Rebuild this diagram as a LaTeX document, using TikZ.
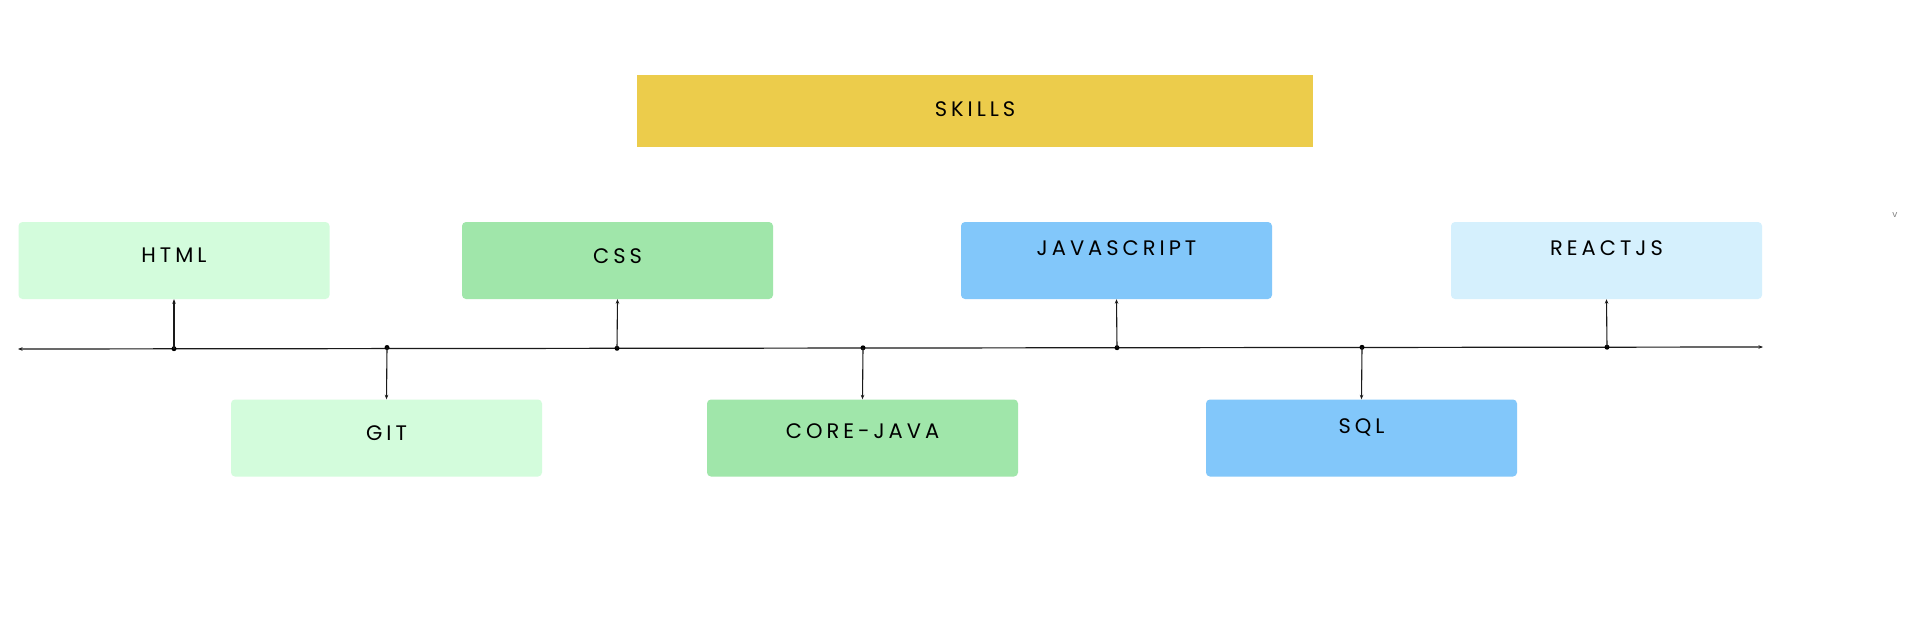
\documentclass[tikz,border=0pt]{standalone}
\usepackage{fontspec}
\setmainfont[LetterSpace=19]{Poppins}
\usetikzlibrary{arrows.meta}
\definecolor{skillc}{HTML}{ECCC4B}
\definecolor{lgreen}{HTML}{D3FCDC}
\definecolor{mgreen}{HTML}{A0E6AA}
\definecolor{mblue}{HTML}{82C7FA}
\definecolor{lblue}{HTML}{D5F0FD}
\definecolor{linec}{HTML}{1A1A1A}
\tikzset{
  box/.style={draw=none, rounded corners=4pt, minimum width=311pt, minimum height=77pt, inner sep=0pt},
  lbl/.style={inner sep=0pt, font=\fontsize{21}{21}\selectfont, text=black},
  conn/.style={draw=linec, line width=1.1pt, -{Stealth[length=4.5pt,width=3.5pt]}},
  tl/.style={draw=linec, line width=1.2pt, {Stealth[length=4.5pt,width=3.5pt]}-{Stealth[length=4.5pt,width=3.5pt]}},
  dotc/.style={circle, fill=black, inner sep=0pt, minimum size=5pt},
}
\begin{document}
\begin{tikzpicture}[x=1pt,y=-1pt]
\useasboundingbox (0,0) rectangle (1920,640);
\fill[white] (0,0) rectangle (1920,640);
% title
\node[draw=none, fill=skillc, minimum width=676pt, minimum height=72pt, inner sep=0pt] (skills) at (975,111) {};
\node[lbl] (skillst) at (975,109) {SKILLS};
% top boxes
\node[box, fill=lgreen] (html) at (174,260.5) {};
\node[lbl] (htmlt) at (174,255.5) {HTML};
\node[box, fill=mgreen] (css) at (617.5,260.5) {};
\node[lbl] (csst) at (617.5,256) {CSS};
\node[box, fill=mblue] (js) at (1116.5,260.5) {};
\node[lbl] (jst) at (1116.5,248) {JAVASCRIPT};
\node[box, fill=lblue] (react) at (1606.5,260.5) {};
\node[lbl] (reactt) at (1606.5,248) {REACTJS};
% bottom boxes
\node[box, fill=lgreen] (git) at (386.5,438) {};
\node[lbl] (gitt) at (386.5,433) {GIT};
\node[box, fill=mgreen] (cj) at (862.5,438) {};
\node[lbl] (cjt) at (862.5,431) {CORE-JAVA};
\node[box, fill=mblue] (sql) at (1361.5,438) {};
\node[lbl] (sqlt) at (1361.5,427) {SQL};
% stray mark
\node[inner sep=0pt, font=\fontsize{9}{9}\selectfont, text=gray] (vmark) at (1895,215) {v};
% timeline
\coordinate (tlL) at (18,349);
\coordinate (tlR) at (1763,347);
\draw[tl] (tlL) -- (tlR);
% junctions
\node[dotc] (dhtml) at (174,348.7) {};
\node[dotc] (dgit) at (387,347.5) {};
\node[dotc] (dcss) at (617,348.3) {};
\node[dotc] (dcj) at (863,347.8) {};
\node[dotc] (djs) at (1117,347.7) {};
\node[dotc] (dsql) at (1362,347.3) {};
\node[dotc] (dreact) at (1607,347.2) {};
% connectors
\draw[conn] (dhtml.center) -- (html.south);
\draw[conn] (dcss.center) -- (css.south);
\draw[conn] (djs.center) -- (js.south);
\draw[conn] (dreact.center) -- (react.south);
\draw[conn] (dgit.center) -- (git.north);
\draw[conn] (dcj.center) -- (cj.north);
\draw[conn] (dsql.center) -- (sql.north);
\end{tikzpicture}
\end{document}
